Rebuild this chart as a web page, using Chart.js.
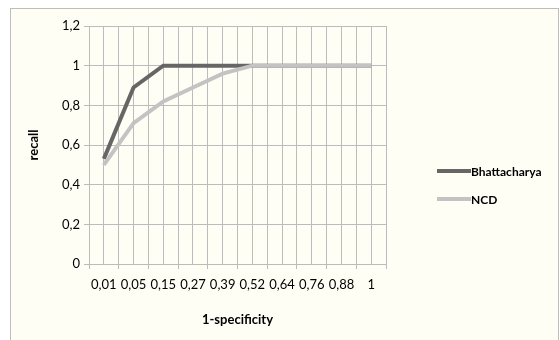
<!DOCTYPE html>
<html>
<head>
<meta charset="utf-8">
<script src="https://cdn.jsdelivr.net/npm/chart.js@4/dist/chart.umd.min.js"></script>
<style>
  html, body { margin: 0; padding: 0; background: #ffffff; overflow: hidden; }
  #frame { position: absolute; left: 10px; top: 8px; width: 547px; height: 360px; border: 1px solid #bdbdbd; background: #fffef5; }
  canvas { display: block; }
</style>
</head>
<body>
<div id="frame"><canvas id="roc" width="547" height="349"></canvas></div>
<script>
const categories = ['0,01', '0,05', '0,15', '0,27', '0,39', '0,52', '0,64', '0,76', '0,88', '1'];
const bhattacharya = [0.53, 0.89, 1, 1, 1, 1, 1, 1, 1, 1];
const ncd = [0.50, 0.71, 0.82, 0.89, 0.96, 1, 1, 1, 1, 1];
const yTickLabels = ['0', '0,2', '0,4', '0,6', '0,8', '1', '1,2'];

const gridGray = '#bcbcbc';
const tickFont = { family: 'Lato', size: 13 };
const boldFont = { family: 'Lato', size: 13, weight: 'bold' };

// legend drawn to the right of the plot, Excel style (line sample + bold label)
const sideLegend = {
  id: 'sideLegend',
  afterDraw(chart) {
    const c = chart.ctx;
    const x0 = chart.chartArea.right + 51;
    c.save();
    c.font = 'bold 12px Lato';
    c.textBaseline = 'middle';
    c.fillStyle = '#000';
    chart.data.datasets.forEach((ds, i) => {
      const y = 162 + i * 28;
      c.strokeStyle = ds.borderColor;
      c.lineWidth = ds.borderWidth;
      c.beginPath();
      c.moveTo(x0, y);
      c.lineTo(x0 + 34, y);
      c.stroke();
      c.fillText(ds.label, x0 + 34, y + 1);
    });
    c.restore();
  }
};

new Chart(document.getElementById('roc'), {
  type: 'line',
  data: {
    labels: categories,
    datasets: [{
      label: 'Bhattacharya',
      data: bhattacharya,
      borderColor: '#666666',
      borderWidth: 4,
      pointRadius: 0,
      order: 1
    }, {
      label: 'NCD',
      data: ncd,
      borderColor: '#c3c3c3',
      borderWidth: 4,
      pointRadius: 0,
      order: 0
    }]
  },
  options: {
    responsive: false,
    animation: false,
    layout: { padding: { top: 17, right: 172, bottom: 0, left: 0 } },
    plugins: {
      tooltip: { enabled: false },
      legend: { display: false }
    },
    scales: {
      x: {
        offset: true,
        grid: { offset: true, color: gridGray, tickLength: 5 },
        border: { color: gridGray },
        ticks: { font: tickFont, color: '#000', padding: 8, maxRotation: 0, autoSkip: false },
        title: { display: true, text: '1-specificity', color: '#000', font: boldFont, padding: { top: 0, bottom: 30 } },
        afterFit: s => { s.height = 94; }
      },
      xMid: {
        type: 'category',
        position: 'bottom',
        labels: categories,
        offset: true,
        grid: { offset: false, drawTicks: false, color: gridGray },
        border: { display: false },
        ticks: { display: false },
        afterFit: s => { s.height = 0; }
      },
      y: {
        min: 0,
        max: 1.2,
        grid: { color: gridGray, tickLength: 5 },
        border: { color: gridGray },
        ticks: { stepSize: 0.2, font: tickFont, color: '#000', padding: 4, callback: (v, i) => yTickLabels[i] },
        title: { display: true, text: 'recall', color: '#000', font: boldFont, padding: { top: 15, bottom: 0 } },
        afterFit: s => { s.width = 78; }
      }
    }
  },
  plugins: [sideLegend]
});
</script>
</body>
</html>
